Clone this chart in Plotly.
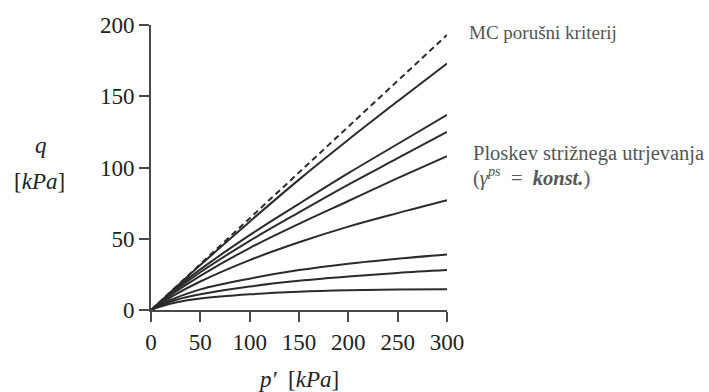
import plotly.graph_objects as go

# Data
p_vals = [0, 10, 25, 50, 100, 150, 200, 250, 300]
mc_p = [0, 300]
mc_q = [0, 193]
curves = [
    [0, 6.3, 15.8, 31.5, 62, 91.5, 119.5, 146.5, 173],
    [0, 6, 15, 28.5, 52.5, 74.5, 96, 116.5, 137],
    [0, 5.7, 14, 26.5, 48.5, 68.5, 88, 106.5, 125],
    [0, 5.2, 12.8, 24, 43.5, 60.5, 76.5, 92.5, 108],
    [0, 4.5, 11, 20, 35, 47.5, 58.5, 68, 77],
    [0, 3.8, 8.5, 14.5, 22, 28, 32.5, 36, 39],
    [0, 3.2, 7, 11, 16.5, 20.5, 23.5, 26, 28],
    [0, 2.5, 5.2, 8, 11, 12.8, 13.8, 14.3, 14.6],
]
x_ticks = [0, 50, 100, 150, 200, 250, 300]
y_ticks = [0, 50, 100, 150, 200]

LINE = "#2b2b2b"
AX = "#4a4a4a"
SERIF = "Liberation Serif"

fig = go.Figure()
fig.add_trace(go.Scatter(x=mc_p, y=mc_q, mode="lines",
                         line=dict(color=LINE, width=2, dash="6px,4px"),
                         showlegend=False, hoverinfo="skip"))
for c in curves:
    fig.add_trace(go.Scatter(x=p_vals, y=c, mode="lines",
                             line=dict(color=LINE, width=2, shape="spline", smoothing=1.0),
                             showlegend=False, hoverinfo="skip"))

L, R, T, B = 151, 262, 25, 82
fig.update_layout(
    width=709, height=392,
    margin=dict(l=L, r=R, t=T, b=B),
    paper_bgcolor="white", plot_bgcolor="white",
    font=dict(family=SERIF, color="#222222"),
)
fig.update_xaxes(range=[0, 300], tickvals=x_ticks, ticks="outside", ticklen=10,
                 tickwidth=2, tickcolor=AX, showline=True, linecolor=AX, linewidth=2,
                 showgrid=False, zeroline=False, tickfont=dict(family=SERIF, size=23, color="#222"))
fig.update_yaxes(range=[0, 200], tickvals=y_ticks, ticks="outside", ticklen=10,
                 tickwidth=2, tickcolor=AX, showline=True, linecolor=AX, linewidth=2,
                 showgrid=False, zeroline=False, tickfont=dict(family=SERIF, size=23, color="#222"))

W_plot = 709 - L - R
H_plot = 392 - T - B

def px(xp):
    return (xp - L) / W_plot

def py(yp):
    return (392 - B - yp) / H_plot

ann = [
    dict(text="<i>q</i>", x=px(41), y=py(145), size=23, color="#222", xanchor="center"),
    dict(text="[<i>kPa</i>]", x=px(39), y=py(182), size=23, color="#222", xanchor="center"),
    dict(text="<i>p′</i>  [<i>kPa</i>]", x=px(298), y=py(379), size=23, color="#222", xanchor="center"),
    dict(text="MC porušni kriterij", x=px(467), y=py(33), size=19, color="#555", xanchor="left"),
    dict(text="Ploskev strižnega utrjevanja", x=px(471), y=py(153), size=20.5, color="#555", xanchor="left"),
    dict(text="(<i>γ</i><sup><i>ps</i></sup>  =  <b><i>konst.</i></b>)", x=px(471), y=py(176), size=20.5, color="#555", xanchor="left"),
]
for a in ann:
    fig.add_annotation(text=a["text"], x=a["x"], y=a["y"], xref="paper", yref="paper",
                       xanchor=a["xanchor"], yanchor="middle", showarrow=False,
                       font=dict(family=SERIF, size=a["size"], color=a["color"]))

fig.write_html("out.html")
